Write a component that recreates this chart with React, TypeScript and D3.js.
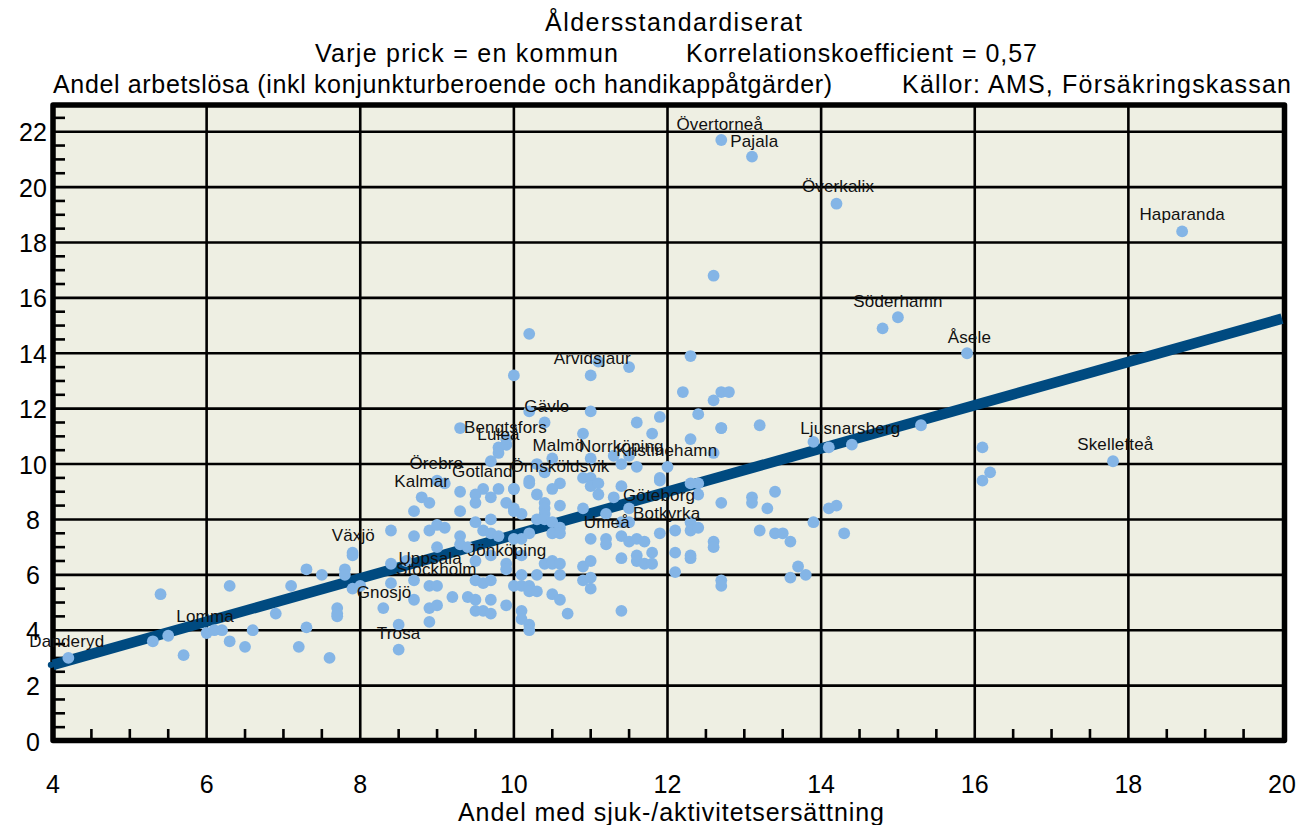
import React from "react";
import * as d3 from "d3";

const titleLines = ["Åldersstandardiserat"];
const pointsX = [
12.7,13.1,14.2,18.7,12.6,15.0,14.8,10.2,15.9,12.3,11.1,11.5,11.0,10.0,12.2,12.7,12.8,12.6,10.2,11.0,12.4,11.9,11.6,10.4,12.7,10.9,11.8,12.3,9.9,12.6,11.3,11.5,11.0,10.5,11.4,11.6,12.0,10.4,10.3,10.9,11.0,11.9,11.9,10.2,10.2,10.6,10.5,10.0,11.0,11.1,11.4,12.3,12.4,12.4,11.1,10.3,11.3,9.9,10.4,10.4,10.4,10.6,10.9,11.5,12.7,10.0,10.1,11.2,10.3,10.4,10.5,10.5,10.6,10.6,11.4,11.5,11.9,12.1,12.3,12.3,12.4,11.0,11.2,11.2,11.4,11.5,11.6,11.7,12.6,12.6,12.1,11.8,11.6,11.6,11.7,11.8,11.4,12.3,12.3,10.9,11.0,10.4,10.5,10.5,10.6,10.1,10.3,10.6,12.1,10.9,11.0,11.0,12.7,12.7,10.0,10.1,10.2,10.2,10.3,10.5,10.6,10.7,11.4,9.9,10.1,10.1,10.2,10.2,9.9,9.9,10.1,10.2,10.0,10.1,
9.3,8.8,8.9,9.5,9.6,9.5,9.7,9.8,10.0,8.7,9.3,10.0,9.5,9.7,8.4,8.7,8.9,9.0,9.1,9.6,9.7,9.8,9.3,9.3,9.4,9.0,7.9,7.9,9.5,9.7,8.4,8.6,7.8,7.8,7.5,7.9,8.0,8.4,8.7,8.9,9.0,9.5,9.6,9.7,8.7,9.2,9.4,9.5,9.7,9.5,9.6,9.7,8.9,9.0,8.3,7.7,7.7,7.7,8.5,8.9,8.5,7.6,
9.3,9.9,9.8,9.8,9.7,9.0,9.1,9.9,
4.2,5.3,5.5,5.4,5.7,6.0,6.1,6.2,6.3,6.3,6.5,6.6,6.9,7.1,7.2,7.3,7.3,
16.1,16.2,16.1,17.8,15.3,14.4,14.1,13.9,13.2,12.7,14.1,14.2,14.3,13.4,13.1,13.1,13.3,13.9,13.2,13.4,13.5,13.6,13.7,13.6,13.8
];
const pointsY = [
21.7,21.1,19.4,18.4,16.8,15.3,14.9,14.7,14.0,13.9,13.7,13.5,13.2,13.2,12.6,12.6,12.6,12.3,11.9,11.9,11.8,11.7,11.5,11.5,11.3,11.1,11.1,10.9,10.7,10.4,10.3,10.3,10.2,10.2,10.0,9.9,9.9,9.7,10.0,9.5,9.5,9.5,9.4,9.4,9.3,9.3,9.1,9.1,9.2,9.3,9.2,9.3,9.3,8.9,8.9,8.9,8.8,8.6,8.6,8.4,8.2,8.5,8.4,8.4,8.6,8.4,8.2,8.2,8.0,8.0,7.9,7.5,7.7,7.5,7.9,7.9,7.5,7.6,7.9,7.6,7.7,7.3,7.3,7.1,7.4,7.2,7.3,7.2,7.2,7.0,6.8,6.8,6.7,6.5,6.4,6.4,6.6,6.7,6.6,6.3,6.5,6.4,6.5,6.4,6.4,6.0,6.0,6.0,6.1,5.8,5.9,5.5,5.8,5.6,5.6,5.6,5.6,5.4,5.4,5.3,5.1,4.6,4.7,4.9,4.7,4.4,4.2,4.0,6.4,6.2,6.7,7.5,7.3,7.3,
9.0,8.8,8.6,8.9,9.1,8.6,8.8,9.1,9.1,8.3,8.3,8.3,7.9,8.0,7.6,7.4,7.6,7.8,7.7,7.6,7.5,7.4,7.4,7.1,7.0,7.0,6.8,6.7,6.5,6.7,6.4,6.5,6.2,6.0,6.0,5.5,5.6,5.7,5.8,5.6,5.6,5.8,5.7,5.8,5.1,5.2,5.2,5.1,5.1,4.7,4.7,4.6,4.8,4.9,4.8,4.8,4.6,4.5,4.2,4.3,3.3,3.0,
11.3,10.7,10.6,10.4,10.1,9.4,9.3,10.9,
3.0,3.6,3.8,5.3,3.1,3.9,4.0,4.0,5.6,3.6,3.4,4.0,4.6,5.6,3.4,4.1,6.2,
10.6,9.7,9.4,10.1,11.4,10.7,10.6,10.8,11.4,11.3,8.4,8.5,7.5,9.0,8.8,8.6,8.4,7.9,7.6,7.5,7.5,7.2,6.3,5.9,6.0
];
const lineX = [4, 20];
const lineY = [2.75, 15.25];
const labelNames = ["Övertorneå","Pajala","Överkalix","Haparanda","Söderhamn","Åsele","Arvidsjaur","Gävle","Bengtsfors","Luleå","Malmö","Norrköping","Kristinehamn","Ljusnarsberg","Skellefteå","Örebro","Gotland","Örnsköldsvik","Kalmar","Göteborg","Botkyrka","Umeå","Växjö","Jönköping","Uppsala","Stockholm","Gnosjö","Trosa","Lomma","Danderyd"];
const labelX = [12.68,13.13,14.22,18.7,15.0,15.93,11.02,10.43,9.89,9.8,10.58,11.4,11.99,14.38,17.83,8.99,9.59,10.6,8.8,11.89,11.99,11.21,7.91,9.91,8.91,8.99,8.31,8.5,5.98,4.18];
const labelY = [22.3,21.66,20.04,19.03,15.88,14.58,13.83,12.09,11.34,11.08,10.69,10.65,10.5,11.3,10.72,10.04,9.75,9.93,9.39,8.88,8.23,7.9,7.44,6.9,6.6,6.2,5.4,3.9,4.5,3.6];
const xTickValues = [4,6,8,10,12,14,16,18,20];
const yTickValues = [0,2,4,6,8,10,12,14,16,18,20,22];

const x = d3.scaleLinear().domain([4, 20]).range([53, 1282]);
const y = d3.scaleLinear().domain([0, 23]).range([741, 104]);
const FONT = "'Liberation Sans', Arial, sans-serif";
const xMinor = d3.range(4.5, 20, 0.5);
const yMinor = d3.range(0.5, 23, 0.5);
const lineGen = d3.line<number>().x((d) => x(d)).y((_, i) => y(lineY[i]));
const TFS = 25;

export default function App() {
  return (
    <svg width={1298} height={825} style={{ position: "absolute", left: 0, top: 0, fontFamily: FONT }}>
      <rect x={0} y={0} width={1298} height={825} fill="#fff" />
      <text x={545} y={31} fontSize={TFS} textLength={257}>{titleLines[0]}</text>
      <text x={315} y={62} fontSize={TFS} textLength={303}>Varje prick = en kommun</text>
      <text x={686} y={62} fontSize={TFS} textLength={351}>Korrelationskoefficient = 0,57</text>
      <text x={53} y={93} fontSize={TFS} textLength={779}>Andel arbetslösa (inkl konjunkturberoende och handikappåtgärder)</text>
      <text x={902} y={93} fontSize={TFS} textLength={389}>Källor: AMS, Försäkringskassan</text>

      <rect x={x(4)} y={105} width={x(20) - x(4) + 2} height={636} fill="#eeefe3" />
      {yTickValues.filter((v) => v > 0).map((v) => (
        <line key={v} x1={x(4)} x2={x(20)} y1={y(v)} y2={y(v)} stroke="#000" strokeWidth={2.6} />
      ))}
      {xTickValues.filter((v) => v > 4 && v < 20).map((v) => (
        <line key={v} x1={x(v)} x2={x(v)} y1={105} y2={y(0)} stroke="#000" strokeWidth={2.6} />
      ))}
      {yMinor.filter((v) => !yTickValues.includes(v)).map((v) => (
        <line key={v} x1={x(4)} x2={x(4) + 12} y1={y(v)} y2={y(v)} stroke="#000" strokeWidth={2.6} />
      ))}
      {xMinor.filter((v) => !xTickValues.includes(v)).map((v) => (
        <line key={v} x1={x(v)} x2={x(v)} y1={y(0)} y2={y(0) - 12} stroke="#000" strokeWidth={2.6} />
      ))}
      <rect x={x(4)} y={105} width={x(20) - x(4) + 2.5} height={635.5} fill="none" stroke="#000" strokeWidth={5.5} strokeLinejoin="round" />

      <path d={lineGen(lineX) ?? ""} fill="none" stroke="#004a80" strokeWidth={10.5} />
      <circle cx={x(lineX[0])} cy={y(lineY[0])} r={3.2} fill="#004a80" transform="translate(-2,0)" />

      {pointsX.map((v, i) => (
        <circle key={i} cx={x(v)} cy={y(pointsY[i])} r={5.9} fill="#84b5e6" />
      ))}

      {labelNames.map((n, i) => (
        <text key={n} x={x(labelX[i])} y={y(labelY[i])} dy="0.36em" textAnchor="middle" fontSize={17} letterSpacing={0.15} fill="#111">{n}</text>
      ))}

      {yTickValues.map((v) => (
        <text key={v} x={33} y={y(v)} dy="0.38em" textAnchor="middle" fontSize={TFS}>{v}</text>
      ))}
      {xTickValues.map((v) => (
        <text key={v} x={x(v)} y={793} textAnchor="middle" fontSize={TFS}>{v}</text>
      ))}
      <text x={458} y={820.5} fontSize={TFS} textLength={426}>Andel med sjuk-/aktivitetsersättning</text>
    </svg>
  );
}
